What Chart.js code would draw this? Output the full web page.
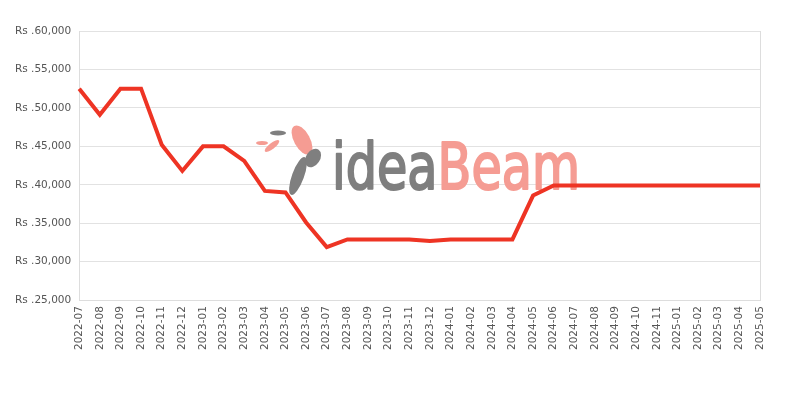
<!DOCTYPE html>
<html>
<head>
<meta charset="utf-8">
<script src="https://cdn.jsdelivr.net/npm/chart.js@4"></script>
<style>
  html, body { margin: 0; padding: 0; background: #fff; }
  #wrap { width: 800px; height: 400px; }
</style>
</head>
<body>
<div id="wrap"><canvas id="lineChart" width="800" height="400"></canvas></div>
<script>
var months = ['2022-07', '2022-08', '2022-09', '2022-10', '2022-11', '2022-12',
  '2023-01', '2023-02', '2023-03', '2023-04', '2023-05', '2023-06', '2023-07',
  '2023-08', '2023-09', '2023-10', '2023-11', '2023-12',
  '2024-01', '2024-02', '2024-03', '2024-04', '2024-05', '2024-06', '2024-07',
  '2024-08', '2024-09', '2024-10', '2024-11',
  '2025-01', '2025-02', '2025-03', '2025-04', '2025-05'];
var prices = [52500, 49100, 52500, 52500, 45200, 41800,
  45000, 45000, 43100, 39200, 39000, 35100, 31900,
  32900, 32900, 32900, 32900, 32700,
  32900, 32900, 32900, 32900, 38600, 39900, 39900,
  39900, 39900, 39900, 39900,
  39900, 39900, 39900, 39900, 39900];
var yMin = 25000, yMax = 60000, yStep = 5000;

// watermark drawn behind the line
var watermark = {
  id: 'watermark',
  beforeDatasetsDraw: function (chart) {
    var c = chart.ctx;
    c.save();
    c.textBaseline = 'alphabetic';
    c.font = '64px "DejaVu Sans Condensed", "DejaVu Sans", sans-serif';
    var w1 = c.measureText('idea').width;
    var w2 = c.measureText('Beam').width;
    var sx = 248 / (w1 + w2);
    c.translate(332, 189);
    c.scale(sx, 1);
    c.lineWidth = 2;
    c.lineJoin = 'round';
    c.fillStyle = c.strokeStyle = '#7f7f7f';
    c.fillText('idea', 0, 0);
    c.strokeText('idea', 0, 0);
    c.fillStyle = c.strokeStyle = '#f59c93';
    c.fillText('Beam', w1, 0);
    c.strokeText('Beam', w1, 0);
    c.restore();
    // bird
    c.save();
    c.fillStyle = '#f59c93';
    c.beginPath();
    c.ellipse(302, 140, 8, 16, -0.5, 0, Math.PI * 2);
    c.fill();
    c.beginPath();
    c.ellipse(272, 146, 3, 9, 0.9, 0, Math.PI * 2);
    c.fill();
    c.beginPath();
    c.ellipse(262, 143, 6, 2, 0, 0, Math.PI * 2);
    c.fill();
    c.fillStyle = '#7f7f7f';
    c.beginPath();
    c.ellipse(278, 133, 8, 2.5, 0, 0, Math.PI * 2);
    c.fill();
    c.beginPath();
    c.ellipse(298, 176, 6, 20, 0.35, 0, Math.PI * 2);
    c.fill();
    c.beginPath();
    c.ellipse(313, 158, 7, 10, 0.6, 0, Math.PI * 2);
    c.fill();
    c.restore();
  }
};

var ctx = document.getElementById('lineChart');
var lineChart = new Chart(ctx, {
  type: 'line',
  data: {
    labels: months,
    datasets: [{
      label: 'Price',
      data: prices,
      borderColor: '#ee3424',
      backgroundColor: '#ee3424',
      borderWidth: 4,
      pointRadius: 0,
      tension: 0,
      fill: false
    }]
  },
  options: {
    responsive: false,
    animation: false,
    layout: { padding: { top: 31, right: 40, bottom: 44, left: 7 } },
    plugins: {
      legend: { display: false },
      tooltip: { enabled: false }
    },
    scales: {
      x: {
        offset: false,
        grid: {
          drawTicks: false,
          color: function (c) { return c.index === months.length - 1 ? '#dddddd' : 'rgba(0,0,0,0)'; }
        },
        border: { color: '#dddddd' },
        ticks: {
          autoSkip: false,
          maxRotation: 90,
          minRotation: 90,
          padding: 6,
          color: '#555',
          font: { family: 'DejaVu Sans', size: 10.5 }
        }
      },
      y: {
        min: yMin,
        max: yMax,
        grid: { color: '#e2e2e2', drawTicks: false },
        border: { color: '#dddddd' },
        ticks: {
          stepSize: yStep,
          padding: 8,
          color: '#555',
          font: { family: 'DejaVu Sans', size: 10.5 },
          callback: function (v) { return 'Rs .' + v.toLocaleString('en-US'); }
        }
      }
    }
  },
  plugins: [watermark]
});
</script>
</body>
</html>
